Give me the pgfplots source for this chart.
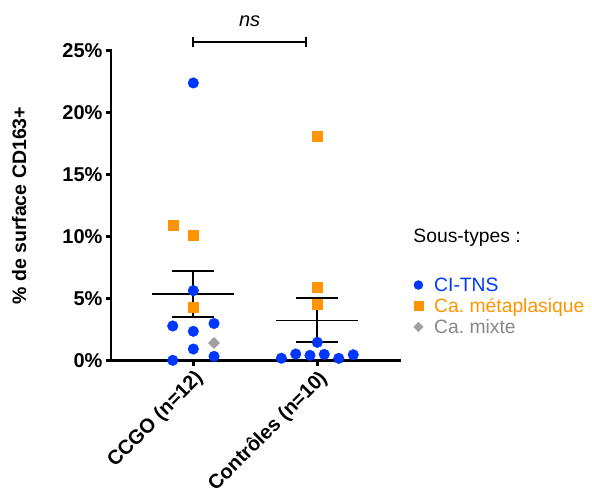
\documentclass[border=0pt]{standalone}
\usepackage{pgfplots}
\pgfplotsset{compat=1.18}
\usepackage{fontspec}
\setmainfont{Liberation Sans}

\definecolor{cblue}{RGB}{0,55,255}
\definecolor{corange}{RGB}{255,148,0}
\definecolor{cgray}{RGB}{160,160,160}
\definecolor{cgraytext}{RGB}{135,135,135}

\begin{document}
\begin{tikzpicture}
\useasboundingbox (-111pt,-132.3pt) rectangle (481pt,360.7pt);
\begin{axis}[
    at={(0,0)}, anchor=south west,
    scale only axis,
    width=289pt, height=310pt,
    xmin=0.336, xmax=2.667,
    ymin=0, ymax=25,
    axis x line*=bottom, axis y line*=left,
    axis line style={line width=2.8pt, line cap=rect},
    every tick/.style={black, line width=2.8pt},
    major tick length=5pt, tick align=outside,
    xtick={1,2},
    xticklabels={CCGO (n=12), Contrôles (n=10)},
    ytick={0,5,10,15,20,25},
    yticklabel={\pgfmathprintnumber{\tick}\%},
    /pgf/number format/assume math mode=true,
    ticklabel style={font=\bfseries\fontsize{20}{24}\selectfont},
    xticklabel style={rotate=45, anchor=north east, inner sep=2pt},
    ylabel={\% de surface CD163+},
    every axis y label/.style={at={(axis description cs:-0.318,0.5)}, rotate=90, anchor=center,
        font=\bfseries\fontsize{19.5}{23}\selectfont},
    clip=false,
    legend style={draw=none, fill=none, at={(axis description cs:1.036,0.176)}, anchor=west,
        font=\fontsize{19.3}{22}\selectfont, row sep=1.5pt,
        nodes={inner sep=2pt},
        /tikz/every odd column/.append style={column sep=9pt}},
    legend cell align=left,
    legend image code/.code={\draw[#1, every mark/.append style={scale=0.85}] plot coordinates {(0.2cm,0cm)};},
]
% CI-TNS
\addplot[only marks, mark=*, mark size=5.3pt, color=cblue, mark options={draw=none, fill=cblue}]
coordinates {
(1,22.4) (1,5.65) (0.834,2.8) (1.167,3.0) (1,2.37) (1,0.94) (1.167,0.35) (0.834,0.03)
(2,1.48) (1.71,0.2) (1.826,0.54) (1.941,0.43) (2.056,0.51) (2.173,0.19) (2.29,0.48)
};
\addlegendentry{\textcolor{cblue}{CI-TNS}}
% Ca. metaplasique
\addplot[only marks, mark=square*, mark size=5.3pt, color=corange, mark options={draw=none, fill=corange}]
coordinates {
(0.839,10.94) (1,10.13) (1,4.33)
(2,18.1) (2,5.94) (2,4.57)
};
\addlegendentry{\textcolor{corange}{Ca.\ métaplasique}}
% Ca. mixte
\addplot[only marks, mark=square*, mark size=4.0pt, color=cgray, mark options={draw=none, fill=cgray, rotate=45}]
coordinates {(1.167,1.43)};
\addlegendentry{\textcolor{cgraytext}{Ca.\ mixte}}

% mean and SEM
\addplot[black, line width=1.8pt, forget plot] coordinates {(0.67,5.37) (1.33,5.37)};
\addplot[black, line width=1.8pt, forget plot] coordinates {(1,3.55) (1,7.26)};
\addplot[black, line width=1.8pt, forget plot] coordinates {(0.83,7.26) (1.17,7.26)};
\addplot[black, line width=1.8pt, forget plot] coordinates {(0.83,3.55) (1.17,3.55)};
\addplot[black, line width=1.8pt, forget plot] coordinates {(1.67,3.25) (2.33,3.25)};
\addplot[black, line width=1.8pt, forget plot] coordinates {(2,1.48) (2,5.03)};
\addplot[black, line width=1.8pt, forget plot] coordinates {(1.83,5.03) (2.17,5.03)};
\addplot[black, line width=1.8pt, forget plot] coordinates {(1.83,1.48) (2.17,1.48)};

% significance bracket
\addplot[black, line width=2.2pt, forget plot] coordinates {(1,25.73) (1.909,25.73)};
\addplot[black, line width=2.2pt, forget plot] coordinates {(1,25.33) (1,26.13)};
\addplot[black, line width=2.2pt, forget plot] coordinates {(1.909,25.33) (1.909,26.13)};
\node[font=\itshape\fontsize{20}{24}\selectfont] at (axis cs:1.4545,27.4) {ns};

\node[anchor=west, font=\fontsize{19.3}{22}\selectfont, inner sep=0pt]
    at (axis description cs:1.046,0.398) {Sous-types :};
\end{axis}
\end{tikzpicture}
\end{document}
